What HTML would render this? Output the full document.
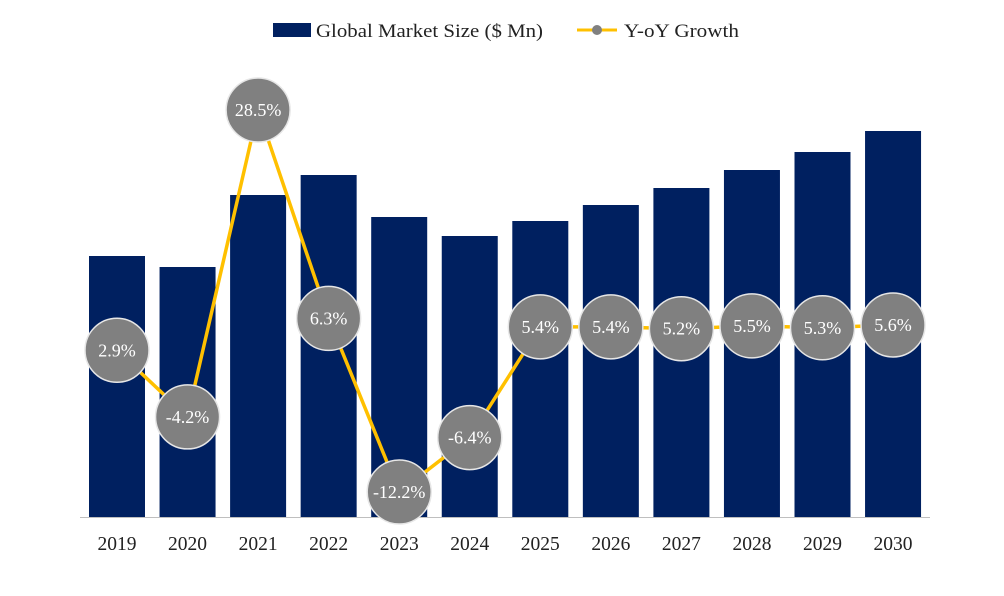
<!DOCTYPE html>
<html><head><meta charset="utf-8"><style>
body{margin:0;background:#fff}
svg text{font-family:"Liberation Serif",serif}
</style></head><body>
<svg id="chart" width="1004" height="591" xmlns="http://www.w3.org/2000/svg">
<g>
<rect x="273" y="23" width="38" height="14" fill="#002060"/>
<text x="316" y="37" font-size="19" textLength="227" lengthAdjust="spacingAndGlyphs" fill="#222">Global Market Size ($ Mn)</text>
<line x1="577" y1="30" x2="617" y2="30" stroke="#FFC000" stroke-width="3"/>
<circle cx="597" cy="30" r="5" fill="#808080"/>
<text x="624" y="37" font-size="19" textLength="115" lengthAdjust="spacingAndGlyphs" fill="#222">Y-oY Growth</text>
</g>
<g id="bars"></g>
<line x1="80" y1="517.5" x2="930" y2="517.5" stroke="#bfbfbf" stroke-width="1"/>
<g id="xlabels"></g>
<g id="line"></g>
<g id="points"></g>
</svg>
<script>
const years=["2019","2020","2021","2022","2023","2024","2025","2026","2027","2028","2029","2030"];
const marketSize=[261,250,322,342,300,281,296,312,329,347,365,386];
const growth=[2.9,-4.2,28.5,6.3,-12.2,-6.4,5.4,5.4,5.2,5.5,5.3,5.6];
const NS="http://www.w3.org/2000/svg";
const base=517;
function xC(i){return 117+i*70.55;}
function yBar(v){return base-v*1.0;}
function yG(v){return 377.5-v*9.386;}
function mk(t,a,p){const e=document.createElementNS(NS,t);for(const k in a)e.setAttribute(k,a[k]);document.getElementById(p).appendChild(e);return e;}
years.forEach((y,i)=>{
  const b=mk('rect',{x:xC(i)-28,y:yBar(marketSize[i]),width:56,height:base-yBar(marketSize[i]),fill:'#002060'},'bars');
  
  
  const t=mk('text',{x:xC(i),y:550,'font-size':19.5,'text-anchor':'middle',fill:'#222'},'xlabels');
  t.textContent=y;
  
  
});
const pl=mk('polyline',{points:growth.map((g,i)=>xC(i)+','+yG(g)).join(' '),fill:'none',stroke:'#FFC000','stroke-width':3.5},'line');


growth.forEach((g,i)=>{
  const c=mk('circle',{cx:xC(i),cy:yG(g),r:32,fill:'#808080',stroke:'#e6e6e6','stroke-width':1.5},'points');
  
  
  const t=mk('text',{x:xC(i),y:yG(g)+6,'font-size':18,'text-anchor':'middle',fill:'#fff'},'points');
  t.textContent=g.toFixed(1)+'%';
  
  
});
</script>
</body></html>
